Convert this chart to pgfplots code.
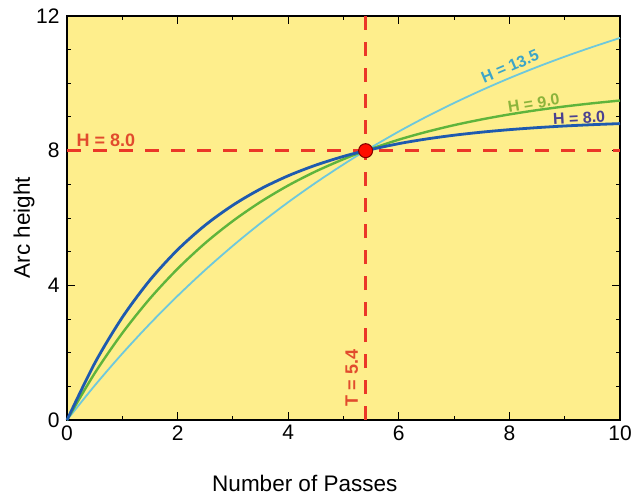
\documentclass[border=0pt]{standalone}
\usepackage{pgfplots}
\pgfplotsset{compat=1.18}
\usepackage{fontspec}
\setmainfont{Liberation Sans}
\definecolor{bgyellow}{RGB}{254,238,140}
\definecolor{cblue}{RGB}{30,90,175}
\definecolor{cgreen}{RGB}{95,180,60}
\definecolor{clight}{RGB}{110,200,220}
\definecolor{cred}{RGB}{235,55,40}
\definecolor{lblred}{RGB}{225,75,45}
\definecolor{lblgreen}{RGB}{140,180,60}
\definecolor{lbllight}{RGB}{60,165,200}
\definecolor{lblblue}{RGB}{75,65,145}
\begin{document}
\begin{tikzpicture}
\path[use as bounding box] (-67pt,-78pt) rectangle (575pt,420pt);
\begin{axis}[
  at={(0,0)}, anchor=south west,
  scale only axis, width=553pt, height=404pt,
  xmin=0, xmax=10, ymin=0, ymax=12,
  xtick={0,2,...,10}, ytick={0,4,8,12},
  minor x tick num=1, minor y tick num=3,
  tick align=inside,
  major tick length=8pt, minor tick length=4pt,
  every tick/.style={black, line width=1pt},
  axis line style={black, line width=1.6pt},
  axis background/.style={fill=bgyellow},
  /pgf/number format/assume math mode=true,
  tick label style={font=\fontsize{21}{24}\selectfont},
  xticklabel style={yshift=-2pt},
  yticklabel style={xshift=-4pt},
  xlabel={Number of Passes}, ylabel={Arc height},
  every axis x label/.style={at={(axis description cs:0.43,0)}, yshift=-63pt, anchor=center, font=\fontsize{22.5}{26}\selectfont},
  every axis y label/.style={at={(axis description cs:0,0.476)}, xshift=-43pt, rotate=90, anchor=center, font=\fontsize{22.5}{26}\selectfont},
  clip=false,
]
\addplot[cred, line width=2.6pt, dash pattern=on 14pt off 12pt] coordinates {(0,8) (10,8)};
\addplot[cred, line width=2.6pt, dash pattern=on 14pt off 12pt] coordinates {(5.4,0) (5.4,12)};
\addplot[clight, line width=1.8pt, smooth] coordinates {
(0,0) (0.5,1.021) (1,1.973) (1.5,2.860) (2,3.687) (2.5,4.458) (3,5.176) (3.5,5.846) (4,6.469) (4.5,7.050) (5,7.593) (5.4,8.000) (6,8.569) (6.5,9.008) (7,9.416) (7.5,9.798) (8,10.154) (8.5,10.484) (9,10.792) (9.5,11.079) (10,11.348)};
\addplot[cgreen, line width=2.4pt, smooth] coordinates {
(0,0) (0.5,1.386) (1,2.580) (1.5,3.608) (2,4.492) (2.5,5.256) (3,5.912) (3.5,6.478) (4,6.966) (4.5,7.386) (5,7.747) (5.4,8.000) (6,8.327) (6.5,8.558) (7,8.758) (7.5,8.929) (8,9.077) (8.5,9.204) (9,9.313) (9.5,9.407) (10,9.489)};
\addplot[cblue, line width=2.8pt, smooth] coordinates {
(0,0) (0.5,1.682) (1,3.048) (1.5,4.156) (2,5.056) (2.5,5.788) (3,6.381) (3.5,6.863) (4,7.254) (4.5,7.571) (5,7.830) (5.4,8.000) (6,8.209) (6.5,8.347) (7,8.459) (7.5,8.550) (8,8.624) (8.5,8.684) (9,8.733) (9.5,8.772) (10,8.804)};
\addplot[only marks, mark=*, mark size=7pt, mark options={fill=red!90!orange, draw=red!50!black, line width=1pt}] coordinates {(5.4,8)};
\node[lblred, font=\fontsize{18}{20}\selectfont\bfseries] at (axis cs:0.705,8.32) {H = 8.0};
\node[lbllight, inner sep=0pt, font=\fontsize{16}{18}\selectfont\bfseries, rotate=23] at (axis cs:8.01,10.51) {H = 13.5};
\node[lblgreen, inner sep=0pt, font=\fontsize{16}{18}\selectfont\bfseries, rotate=9] at (axis cs:8.44,9.41) {H = 9.0};
\node[lblblue, inner sep=0pt, font=\fontsize{16}{18}\selectfont\bfseries, rotate=3] at (axis cs:9.26,8.97) {H = 8.0};
\node[lblred, font=\fontsize{18}{20}\selectfont\bfseries, rotate=90] at (axis cs:5.15,1.25) {T = 5.4};
\end{axis}
\end{tikzpicture}
\end{document}
